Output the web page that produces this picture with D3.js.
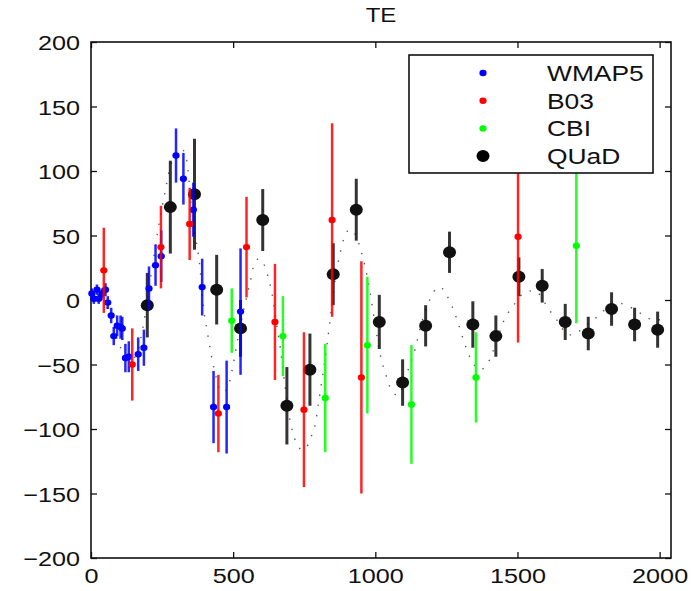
<!DOCTYPE html>
<html>
<head>
<meta charset="utf-8">
<script src="https://cdn.jsdelivr.net/npm/d3@7"></script>
<style>
  body { margin: 0; background: #fff; }
  text { font-family: "Liberation Sans", Arial, Helvetica, sans-serif; fill: #111; }
</style>
</head>
<body>
<div id="chart"></div>
<script>
// values (multipole ell vs TE power, uK^2)
const wmapL   = [3, 10, 21, 27, 39, 51, 59, 71, 80, 92, 104, 110, 121, 133, 166, 186, 204, 227, 247, 299, 325, 360, 391, 431, 477, 526];
const wmapTE  = [5, 1, 8, 1, 5, 8, -2, -12, -28, -20, -21, -22, -45, -44, -42, -37, 9, 27, 34, 112, 94, 70, 10, -83, -83, -9];
const wmapErr = [4, 4, 4, 4, 4, 5, 5, 6, 7, 8, 9, 9, 11, 12, 13, 14, 17, 16, 20, 21, 20, 21, 22, 28, 36, 49];

const b03L   = [45, 145, 246, 347, 448, 547, 647, 749, 848, 951, 1502];
const b03TE  = [23, -50, 41, 59, -88, 41, -17, -85, 62, -60, 49];
const b03Err = [33, 28, 32, 28, 30, 39, 45, 60, 75, 90, 82];

const cbiL   = [495, 675, 824, 972, 1127, 1354, 1707];
const cbiTE  = [-16, -28, -76, -35, -81, -60, 42];
const cbiErr = [25, 31, 42, 53, 46, 35, 60];

const quadL   = [198, 279, 364, 442, 526, 604, 689, 770, 852, 933, 1014, 1096, 1177, 1261, 1343, 1424, 1505, 1587, 1668, 1749, 1831, 1912, 1993];
const quadTE  = [-4, 72, 82, 8, -22, 62, -82, -54, 20, 70, -17, -64, -20, 37, -19, -28, 18, 11, -17, -26, -7, -19, -23];
const quadErr = [25, 36, 43, 27, 22, 24, 30, 28, 24, 24, 21, 18, 16, 16, 18, 16, 15, 13, 14, 13, 13, 13, 14];

// model curve (dotted)
const theoryL  = [2, 10, 20, 30, 40, 50, 60, 70, 80, 90, 100, 115, 130, 145, 160, 175, 190, 205, 220, 240, 260, 275, 290, 305, 320, 335, 350, 365, 380, 395, 410, 425, 440, 455, 470, 485, 500, 515, 530, 545, 560, 575, 590, 605, 620, 635, 650, 665, 680, 695, 710, 725, 740, 755, 770, 785, 800, 815, 830, 845, 860, 875, 890, 905, 920, 935, 950, 965, 980, 1000, 1020, 1040, 1060, 1080, 1100, 1120, 1140, 1160, 1180, 1200, 1215, 1230, 1250, 1270, 1290, 1310, 1330, 1350, 1370, 1390, 1410, 1430, 1450, 1470, 1490, 1510, 1530, 1550, 1570, 1590, 1610, 1630, 1650, 1670, 1690, 1710, 1730, 1750, 1770, 1790, 1810, 1830, 1850, 1870, 1890, 1910, 1930, 1950, 1970, 1990, 2010];
const theoryTE = [2, 0.5, 1, 1, 0, -3, -8, -15, -22, -29, -35, -41, -45, -46, -42, -30, -12, 10, 32, 60, 83, 100, 110, 115, 117, 110, 78, 52, 32, -5, -26, -45, -60, -70, -71, -65, -50, -32, -15, 0, 14, 28, 32, 29, 20, 7, -15, -36, -62, -87, -103, -112, -116, -115, -108, -100, -80, -58, -35, -8, 18, 35, 48, 54, 54, 48, 38, 25, 8, -20, -45, -60, -71, -74, -65, -51, -38, -20, -6, 4, 9, 10, 4, -5, -17, -31, -43, -51, -54, -51, -42, -30, -17, -9, -3, 3, 6, 7, 6, 0, -7, -13, -19, -26, -27, -25, -22, -18, -15, -11, -7, -4, -2, -3, -5, -7, -10, -13, -15, -15.5, -15];

const xTicks = [0, 500, 1000, 1500, 2000];
const yTicks = [-200, -150, -100, -50, 0, 50, 100, 150, 200];
const seriesNames = ["WMAP5", "B03", "CBI", "QUaD"];
const seriesColors = ["#0000ff", "#ff0000", "#00ff00", "#000000"];

const W = 698, H = 591;
const margin = { left: 91, right: 27, top: 42, bottom: 33 };
const stretch = 1.2; // the figure's lettering is horizontally stretched

const svg = d3.select("#chart").append("svg")
    .attr("width", W)
    .attr("height", H);

const x = d3.scaleLinear().domain([0, 2040]).range([margin.left, W - margin.right]);
const y = d3.scaleLinear().domain([-200, 200]).range([H - margin.bottom, margin.top]);

const stretchText = (sel, dx) => {
    sel.selectAll("text")
        .attr("transform", `scale(${stretch},1)`)
        .attr("x", function () { return dx / stretch; })
        .style("font-size", "21px");
}

// axes, ticks pointing inward on all four sides
const gx = svg.append("g")
    .attr("transform", `translate(0,${y(-200)})`)
    .call(d3.axisBottom(x).tickValues(xTicks).tickSizeInner(-6).tickSizeOuter(0).tickPadding(10).tickFormat(d3.format("d")));
stretchText(gx, 0);

const gy = svg.append("g")
    .attr("transform", `translate(${x(0)},0)`)
    .call(d3.axisLeft(y).tickValues(yTicks).tickSizeInner(-6).tickSizeOuter(0).tickPadding(10)
        .tickFormat(d => d < 0 ? "\u2212" + Math.abs(d) : d));
stretchText(gy, -11);
gy.selectAll("text").attr("dy", "0.36em");

svg.append("g")
    .attr("transform", `translate(0,${y(200)})`)
    .call(d3.axisTop(x).tickValues(xTicks).tickSizeInner(-6).tickSizeOuter(0).tickFormat(""));
svg.append("g")
    .attr("transform", `translate(${x(2040)},0)`)
    .call(d3.axisRight(y).tickValues(yTicks).tickSizeInner(-6).tickSizeOuter(0).tickFormat(""));

svg.selectAll(".domain").remove();
svg.selectAll(".tick line").attr("stroke", "#111").attr("stroke-width", 1.3);

svg.append("rect")
    .attr("x", x(0)).attr("y", y(200))
    .attr("width", x(2040) - x(0)).attr("height", y(-200) - y(200))
    .attr("fill", "none").attr("stroke", "#111").attr("stroke-width", 1.6);

// title
svg.append("text")
    .attr("transform", `translate(${(x(0) + x(2040)) / 2},22) scale(${stretch},1)`)
    .attr("text-anchor", "middle")
    .style("font-size", "20px")
    .text("TE");

const plot = svg.append("g");

// dotted model curve
const line = d3.line()
    .x(d => x(d[0]))
    .y(d => y(d[1]))
    .curve(d3.curveCatmullRom);

plot.append("path")
    .datum(d3.zip(theoryL, theoryTE))
    .attr("d", line)
    .attr("fill", "none")
    .attr("stroke", "#222")
    .attr("stroke-width", 1.4)
    .attr("stroke-dasharray", "1.4,9")
    .attr("opacity", 0.75);

const drawSeries = (L, TE, Err, color, barWidth, rx, ry) => {
    const pts = d3.zip(L, TE, Err);
    const g = plot.append("g");
    g.selectAll("line")
        .data(pts)
        .join("line")
        .attr("x1", d => x(d[0])).attr("x2", d => x(d[0]))
        .attr("y1", d => y(d[1] - d[2])).attr("y2", d => y(d[1] + d[2]))
        .attr("stroke", color)
        .attr("stroke-width", barWidth)
        .attr("opacity", 0.85);
    g.selectAll("ellipse")
        .data(pts)
        .join("ellipse")
        .attr("cx", d => x(d[0])).attr("cy", d => y(d[1]))
        .attr("rx", rx).attr("ry", ry)
        .attr("fill", color);
}

drawSeries(quadL, quadTE, quadErr, "#111", 3, 6.5, 6);
drawSeries(wmapL, wmapTE, wmapErr, seriesColors[0], 2.5, 3.6, 3.2);
drawSeries(b03L, b03TE, b03Err, seriesColors[1], 2.5, 3.6, 3.2);
drawSeries(cbiL, cbiTE, cbiErr, seriesColors[2], 2.5, 3.6, 3.2);

// legend, drawn over the data
const legend = svg.append("g").attr("transform", "translate(409,55)");
legend.append("rect")
    .attr("width", 244).attr("height", 118)
    .attr("fill", "#fff").attr("stroke", "#111").attr("stroke-width", 1.6);

seriesNames.forEach((name, i) => {
    const ly = 18 + i * 27.7;
    legend.append("ellipse")
        .attr("cx", 74).attr("cy", ly)
        .attr("rx", i == 3 ? 6.5 : 3.6).attr("ry", i == 3 ? 6 : 3.2)
        .attr("fill", seriesColors[i]);
    legend.append("text")
        .attr("transform", `translate(138,${ly + 8}) scale(${stretch},1)`)
        .style("font-size", "22px")
        .text(name);
});
</script>
</body>
</html>
